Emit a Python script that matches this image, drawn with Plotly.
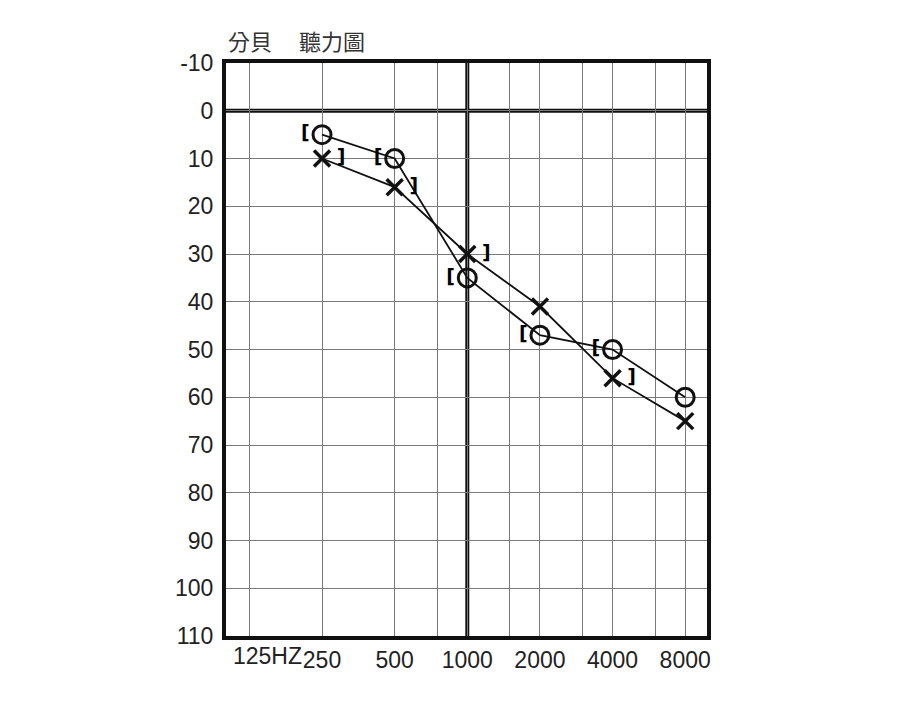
import math
import plotly.graph_objects as go

# ---- data ----
freqs = [250, 500, 1000, 2000, 4000, 8000]
o_levels = [5, 10, 35, 47, 50, 60]      # circle (O)
x_levels = [10, 16, 30, 41, 56, 65]     # cross (X)
o_brackets = ["[", "[", "[", "[", "[", ""]
x_brackets = ["\u2009]", "\u2009]", "\u2009]", "", "\u2009]", ""]
grid_freqs = [125, 250, 500, 750, 1000, 1500, 2000, 3000, 4000, 6000, 8000]
grid_labels = ["", "250", "500", "", "1000", "", "2000", "", "4000", "", "8000"]
y_ticks = list(range(-10, 111, 10))
y_labels = [str(v) for v in y_ticks]
title_text = "分貝\u3000 聽力圖"
low_label = "125HZ"

FONT = "Liberation Sans, Arial, sans-serif"
CJK = "Noto Sans CJK TC, sans-serif"
BR_FONT = dict(family="DejaVu Sans, sans-serif", size=19, color="#000", weight="bold")

fig = go.Figure()

fig.add_trace(go.Scatter(
    x=freqs, y=o_levels, mode="lines+markers+text",
    text=o_brackets, textposition="middle left", textfont=BR_FONT,
    line=dict(color="#111", width=1.8),
    marker=dict(symbol="circle-open", size=18, color="#111", line=dict(width=3)),
    showlegend=False, cliponaxis=False,
))
fig.add_trace(go.Scatter(
    x=freqs, y=x_levels, mode="lines+markers+text",
    text=x_brackets, textposition="middle right", textfont=BR_FONT,
    line=dict(color="#111", width=1.8),
    marker=dict(symbol="x-thin-open", size=16, color="#111", line=dict(width=3.5)),
    showlegend=False, cliponaxis=False,
))

# thick reference lines at 0 dB and 1000 Hz
fig.add_shape(type="line", xref="paper", x0=0, x1=1, yref="y", y0=0, y1=0,
              line=dict(color="#111", width=4), layer="below")
fig.add_shape(type="line", xref="x", x0=1000, x1=1000, yref="paper", y0=0, y1=1,
              line=dict(color="#111", width=4), layer="below")

fig.add_annotation(text=title_text, xref="paper", yref="paper", x=0.0, y=1.04,
                   xanchor="left", yanchor="middle", showarrow=False,
                   font=dict(family=CJK, size=22, color="#333"))
fig.add_annotation(text=low_label, xref="x", yref="paper", x=math.log10(250), y=-0.035,
                   xanchor="right", yanchor="middle", xshift=-18, showarrow=False,
                   font=dict(family=FONT, size=23, color="#222"))

fig.update_xaxes(
    type="log", range=[math.log10(100), math.log10(9850)],
    tickmode="array", tickvals=grid_freqs, ticktext=grid_labels,
    showgrid=True, gridcolor="#7a7a7a", gridwidth=1.2,
    showline=True, linecolor="#111", linewidth=4, mirror=True,
    ticks="", ticklabelstandoff=0,
    tickfont=dict(family=FONT, size=23, color="#222"),
    zeroline=False,
)
fig.update_yaxes(
    range=[110, -10], tickmode="array", tickvals=y_ticks, ticktext=y_labels,
    showgrid=True, gridcolor="#7a7a7a", gridwidth=1.2,
    showline=True, linecolor="#111", linewidth=4, mirror=True,
    ticks="", ticklabelstandoff=4,
    tickfont=dict(family=FONT, size=23, color="#222"),
    zeroline=False,
)

fig.update_layout(
    width=900, height=705,
    margin=dict(l=226, r=193, t=63, b=69),
    paper_bgcolor="white", plot_bgcolor="white",
)

fig.write_html("out.html", config={"displayModeBar": False},
               post_script="document.body.style.margin='0';")
